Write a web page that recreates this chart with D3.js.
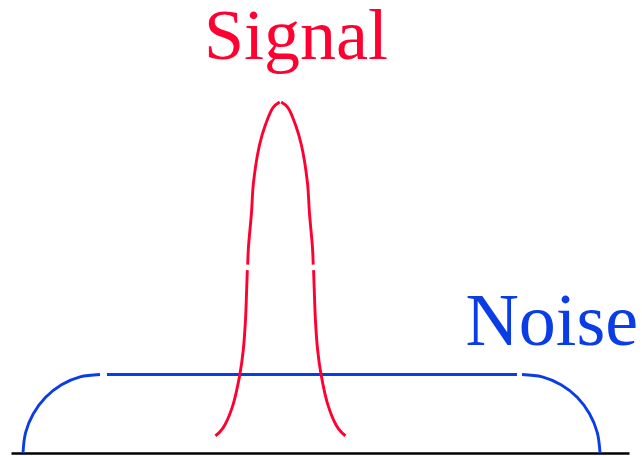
<!DOCTYPE html>
<html>
<head>
<meta charset="utf-8">
<script src="https://cdn.jsdelivr.net/npm/d3@7/dist/d3.min.js"></script>
<style>
    html, body { margin: 0; padding: 0; background: #fff; }
    text { font-family: "Liberation Serif", "DejaVu Serif", serif; }
</style>
</head>
<body>
<div id="chart"></div>
<script>
'use strict';

var signalCenter = 43.6;
var signalUpperHeight = [4.47, 4.40, 4.18, 3.92, 3.44, 3.06, 2.62, 2.40];
var signalUpperHalfWidth = [0.12, 1.2, 2.43, 3.40, 4.37, 4.69, 5.18, 5.30];
var signalLowerHeight = [2.33, 2.01, 1.69, 1.31, 1.01, 0.61, 0.36, 0.27, 0.22];
var signalLowerHalfWidth = [5.36, 5.50, 5.66, 6.02, 6.55, 7.69, 8.98, 9.79, 10.52];

// noise floor: left shoulder, flat part, right shoulder
var noiseLeftX = [1.94, 2.36, 3.61, 5.60, 8.17, 11.18, 14.40];
var noiseLeftY = [0, 0.26, 0.50, 0.71, 0.87, 0.97, 1.0];
var noiseFlatX = [15.53, 81.88];
var noiseFlatY = [1.0, 1.0];
var noiseRightX = [82.69, 85.96, 89.00, 91.62, 93.61, 94.87, 95.31];
var noiseRightY = [1.0, 0.97, 0.87, 0.71, 0.50, 0.26, 0];

var labels = ['Signal', 'Noise'];

var width = 642,
    height = 456,
    red = '#ff0030',
    blue = '#0a3de6';

var svg = d3.select('#chart')
    .append('svg')
    .attr('width', width)
    .attr('height', height);

var x = d3.scaleLinear().domain([0, 100]).range([11, 629]);
var y = d3.scaleLinear().domain([0, 5]).range([453, 60.5]);

var line = d3.line()
    .x(function (d) { return x(d[0]); })
    .y(function (d) { return y(d[1]); })
    .curve(d3.curveCatmullRom.alpha(0.5));

function side(heights, halfWidths, sign) {
    return heights.map(function (h, i) {
        return [signalCenter + sign * halfWidths[i], h];
    });
}

function zipXY(xs, ys) {
    return xs.map(function (v, i) { return [v, ys[i]]; });
}

// baseline as a bare axis
svg.append('g')
    .attr('class', 'xAxis')
    .attr('transform', 'translate(0,' + y(0) + ')')
    .call(d3.axisBottom(x).ticks(0).tickSizeOuter(0))
    .call(function (g) {
        g.select('.domain').attr('stroke', '#000').attr('stroke-width', 2.4);
    });

var noisePieces = [
    zipXY(noiseLeftX, noiseLeftY),
    zipXY(noiseFlatX, noiseFlatY),
    zipXY(noiseRightX, noiseRightY)
];

svg.append('g')
    .selectAll('path')
    .data(noisePieces)
    .enter().append('path')
    .attr('d', line)
    .attr('fill', 'none')
    .attr('stroke', blue)
    .attr('stroke-width', 2.9);

var signalPieces = [
    side(signalUpperHeight, signalUpperHalfWidth, -1),
    side(signalUpperHeight, signalUpperHalfWidth, 1),
    side(signalLowerHeight, signalLowerHalfWidth, -1),
    side(signalLowerHeight, signalLowerHalfWidth, 1)
];

svg.append('g')
    .selectAll('path')
    .data(signalPieces)
    .enter().append('path')
    .attr('d', line)
    .attr('fill', 'none')
    .attr('stroke', red)
    .attr('stroke-width', 2.9);

// labels
svg.append('text')
    .text(labels[0])
    .attr('x', x(46.1))
    .attr('y', y(5.02))
    .attr('fill', red)
    .attr('font-size', 72)
    .style('text-anchor', 'middle');

svg.append('text')
    .text(labels[1])
    .attr('x', x(87.5))
    .attr('y', y(1.38))
    .attr('fill', blue)
    .attr('font-size', 74)
    .style('text-anchor', 'middle');
</script>
</body>
</html>
